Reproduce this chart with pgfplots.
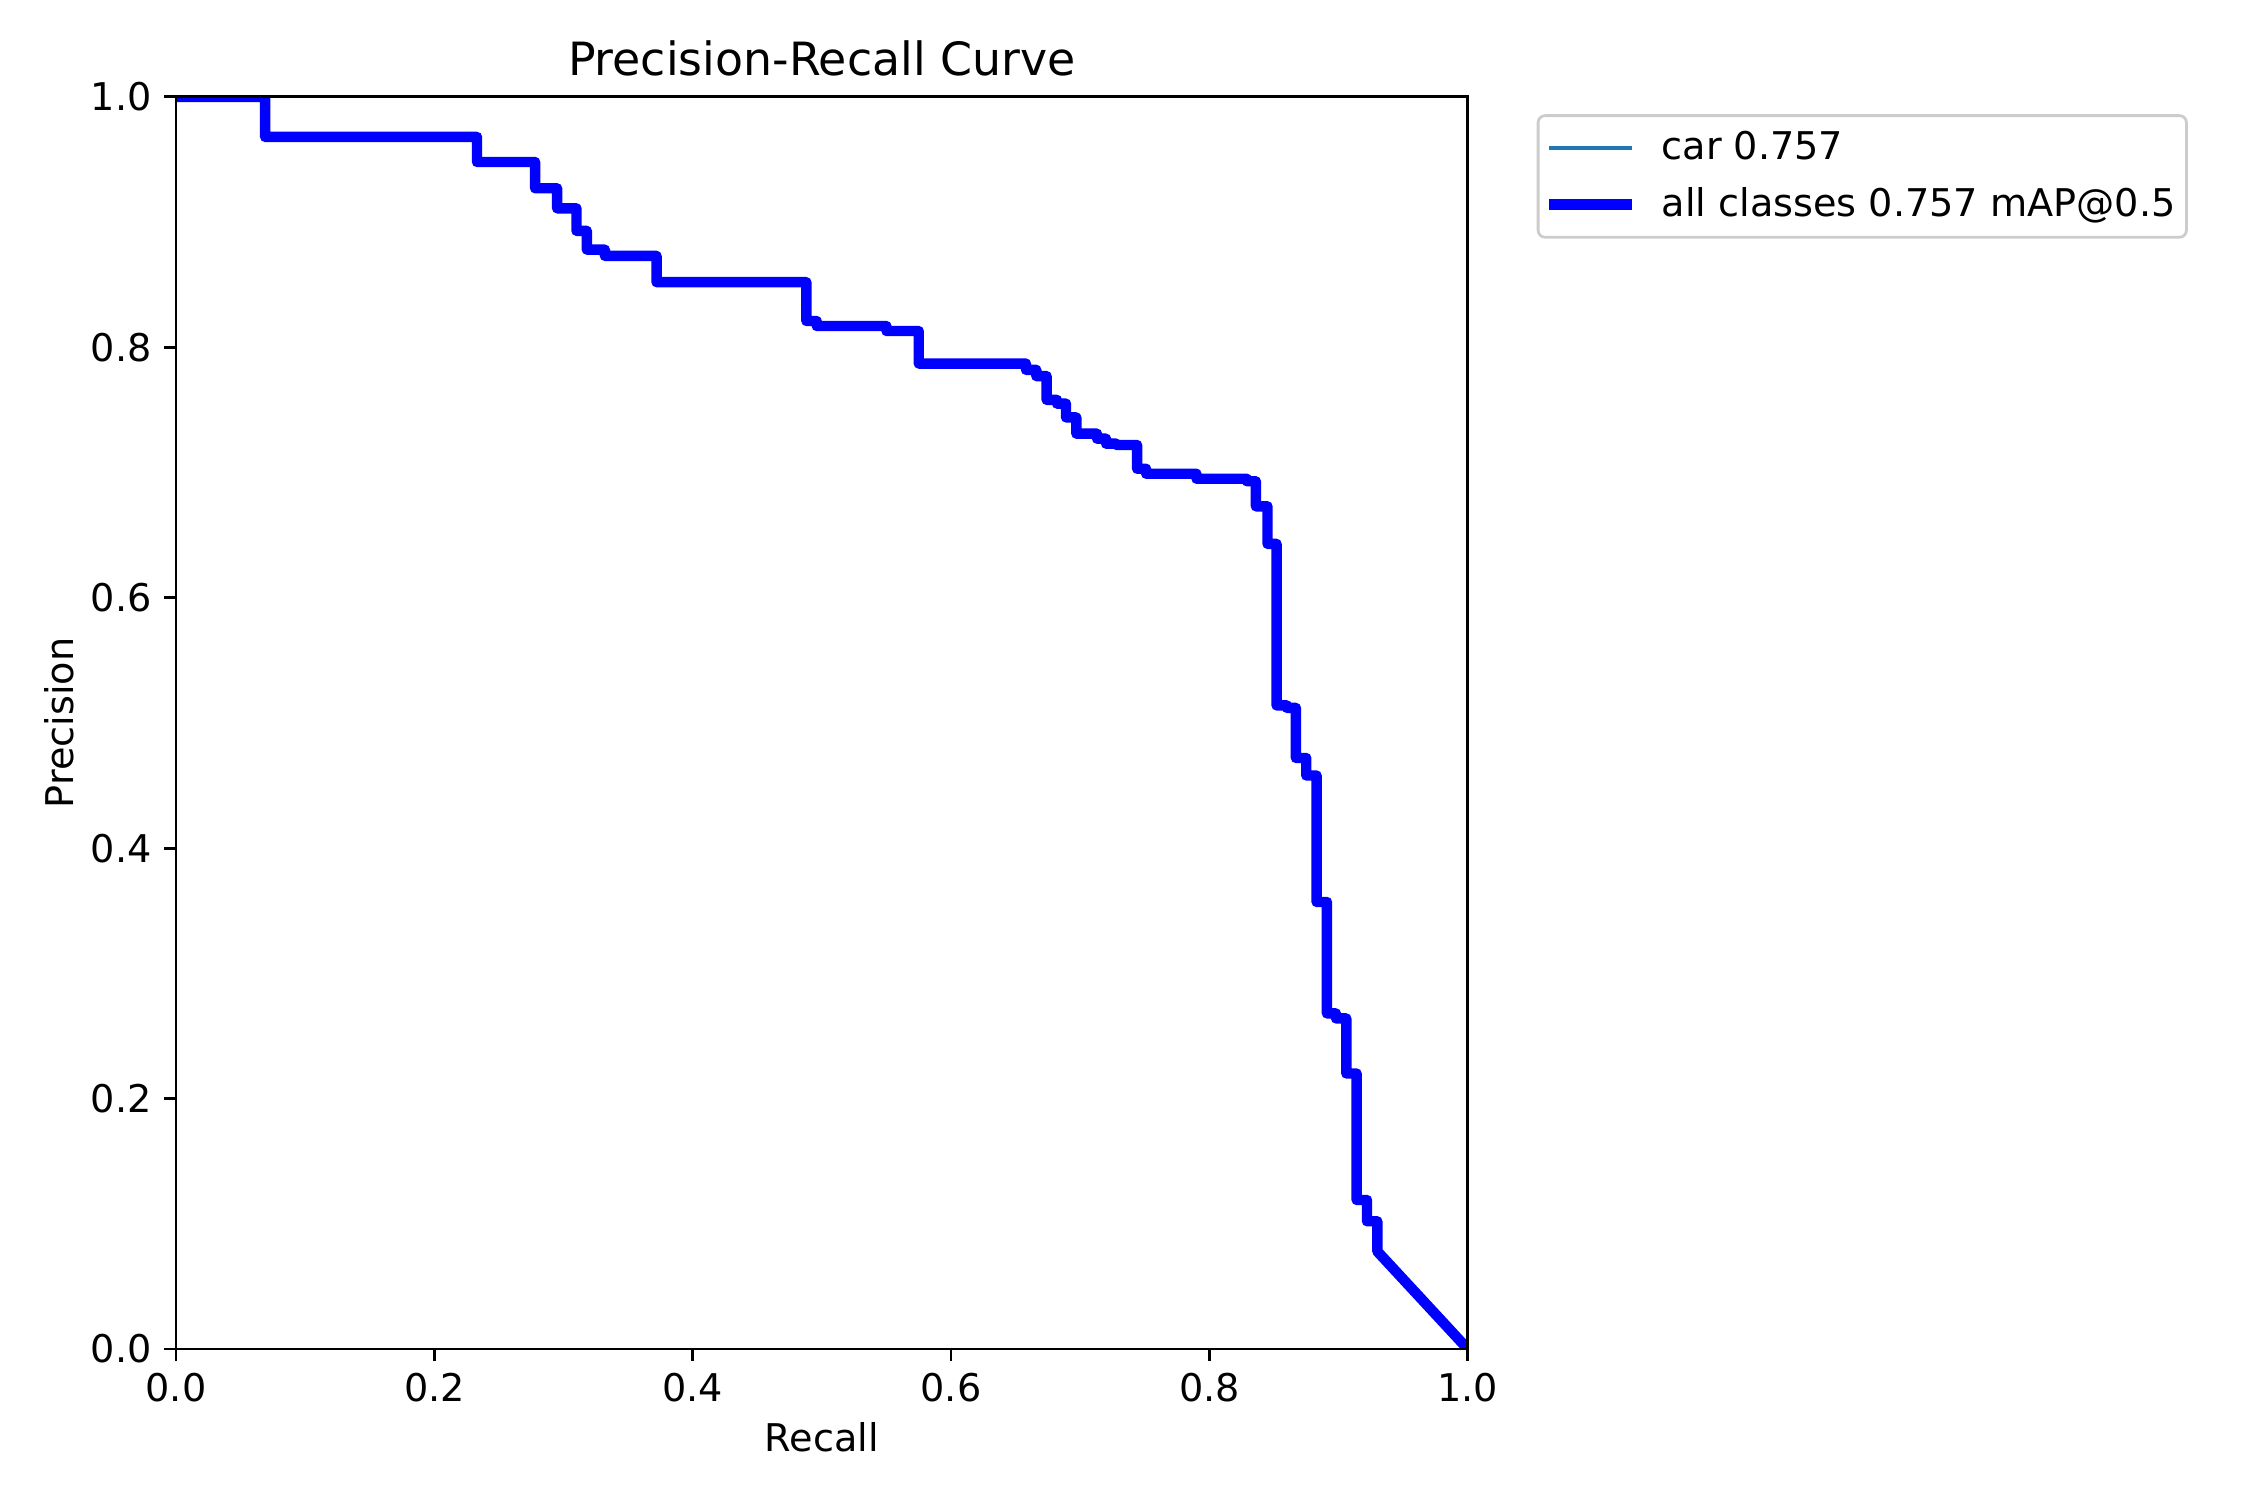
\documentclass[border=0pt]{standalone}
\usepackage{fontspec}
\setmainfont{DejaVu Sans}
\usepackage{pgfplots}
\usepackage{pgfplotstable}
\pgfplotsset{compat=1.18}

\definecolor{tabblue}{HTML}{1F77B4}
\definecolor{pureblue}{HTML}{0000FF}

% precision-recall step curve (recall, precision)
\pgfplotstableread{
r p
0.000 1.000
0.069 1.000
0.069 0.968
0.233 0.968
0.233 0.948
0.278 0.948
0.278 0.927
0.295 0.927
0.295 0.911
0.310 0.911
0.310 0.893
0.318 0.893
0.318 0.878
0.332 0.878
0.332 0.873
0.372 0.873
0.372 0.852
0.488 0.852
0.488 0.821
0.496 0.821
0.496 0.817
0.550 0.817
0.550 0.813
0.575 0.813
0.575 0.787
0.658 0.787
0.658 0.782
0.666 0.782
0.666 0.777
0.674 0.777
0.674 0.758
0.682 0.758
0.682 0.755
0.689 0.755
0.689 0.744
0.697 0.744
0.697 0.731
0.713 0.731
0.713 0.727
0.720 0.727
0.720 0.723
0.728 0.723
0.728 0.722
0.744 0.722
0.744 0.703
0.751 0.703
0.751 0.699
0.790 0.699
0.790 0.695
0.829 0.695
0.829 0.693
0.836 0.693
0.836 0.673
0.845 0.673
0.845 0.643
0.852 0.643
0.852 0.514
0.860 0.514
0.860 0.512
0.867 0.512
0.867 0.472
0.875 0.472
0.875 0.458
0.883 0.458
0.883 0.357
0.891 0.357
0.891 0.268
0.898 0.268
0.898 0.264
0.906 0.264
0.906 0.220
0.914 0.220
0.914 0.119
0.922 0.119
0.922 0.102
0.930 0.102
0.930 0.078
1.000 0.000
}\prdata

\begin{document}
\begin{tikzpicture}
% page frame: 9in x 6in figure, axes box placed at the origin
\useasboundingbox (-50.7pt,-43.5pt) rectangle (597.3pt,388.5pt);
\begin{axis}[
  at={(0,0)}, anchor=south west,
  scale only axis,
  width=372pt, height=360.6pt,
  xmin=0, xmax=1, ymin=0, ymax=1,
  xtick={0,0.2,0.4,0.6,0.8,1.0},
  ytick={0,0.2,0.4,0.6,0.8,1.0},
  /pgf/number format/assume math mode=true,
  /pgf/number format/.cd, fixed, fixed zerofill, precision=1, /pgfplots/.cd,
  tick align=outside, tick pos=left,
  major tick length=3.5pt,
  every tick/.style={black, line width=0.8pt},
  axis line style={line width=0.8pt},
  axis on top,
  xlabel={Recall}, ylabel={Precision},
  title={Precision-Recall Curve},
  title style={font=\fontsize{13.2}{15.8}\selectfont, yshift=-3.5pt},
  tick label style={font=\fontsize{11}{13.2}\selectfont},
  label style={font=\fontsize{11}{13.2}\selectfont},
  xlabel style={yshift=1pt},
  ylabel style={yshift=-2pt},
  legend style={
    at={(1.04,1)}, anchor=north west,
    xshift=5pt, yshift=-5pt,
    draw=black!20, rounded corners=2pt, line width=0.8pt,
    fill=white, fill opacity=0.8, text opacity=1,
    font=\fontsize{11}{13.2}\selectfont,
    inner xsep=1.6pt, inner ysep=3pt,
    row sep=3.5pt,
    nodes={inner sep=1.5pt},
  },
  legend cell align=left,
  legend image code/.code={%
    \draw[#1, line cap=butt] (0pt,0pt) -- (24pt,0pt);
    \path[draw=none, fill=none] (24pt,0pt) -- (31pt,0pt);},
]
\addplot[tabblue, line width=1pt, line join=round] table[x=r, y=p] {\prdata};
\addlegendentry{car 0.757}
\addplot[pureblue, line width=3pt, line join=round] table[x=r, y=p] {\prdata};
\addlegendentry{all classes 0.757 mAP@0.5\hspace{1.6pt}}
\end{axis}
\end{tikzpicture}
\end{document}
